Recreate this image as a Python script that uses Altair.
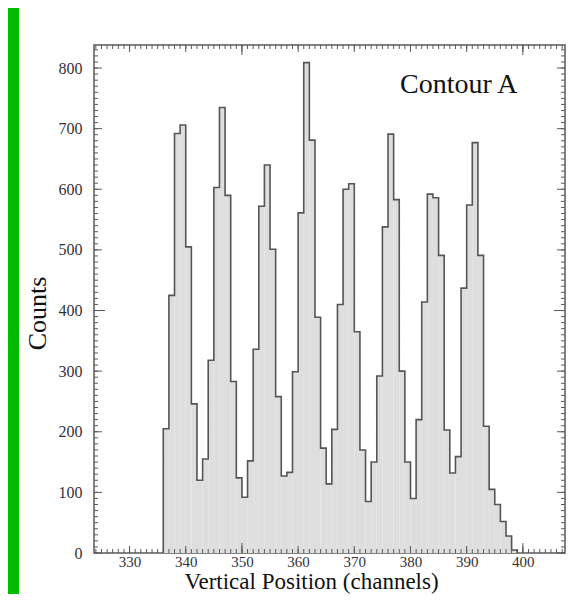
import altair as alt
import pandas as pd

# ---- data ----
channels = list(range(336, 399))
counts = [205, 425, 692, 706, 505, 246, 120, 155, 318, 603,
          735, 590, 283, 124, 92, 152, 336, 572, 640, 501,
          258, 127, 133, 299, 561, 809, 681, 389, 173, 114,
          204, 410, 600, 609, 365, 170, 85, 150, 292, 538,
          691, 583, 300, 150, 90, 220, 414, 592, 586, 491,
          203, 132, 159, 437, 574, 677, 491, 209, 105, 80,
          52, 28, 5]
x_label_values = [330, 340, 350, 360, 370, 380, 390, 400]
y_label_values = [0, 100, 200, 300, 400, 500, 600, 700, 800]
x_minor = list(range(324, 408))
x_big = [350, 400]
y_minor = list(range(0, 840, 10))
y_big = [400]
x_domain = [323.67, 407.5]
y_domain = [0, 838]
annotation = ["Contour A"]

PW, PH = 471, 508
FRAME = "#5a5a5a"
SERIF = "Liberation Serif"

# step outline points: rise at first edge, drop after last bin
xs_pts = [channels[0]] + channels + [channels[-1] + 1]
ys_pts = [0] + counts + [0]
hist = pd.DataFrame({"x": xs_pts, "y": ys_pts, "i": list(range(len(xs_pts)))})

xs = alt.Scale(domain=x_domain, nice=False, zero=False)
ys = alt.Scale(domain=y_domain, nice=False)

xaxis = alt.Axis(
    values=x_label_values, format="d", ticks=False, domain=False, grid=False,
    labelFont=SERIF, labelFontSize=15, labelColor="#333", labelPadding=1,
    title="Vertical Position (channels)", titleFont=SERIF, titleFontSize=23,
    titleFontWeight="normal", titleColor="#111", titleX=217, titleY=35,
    titleBaseline="alphabetic", titleAlign="center")
yaxis = alt.Axis(
    values=y_label_values, format="d", ticks=False, domain=False, grid=False,
    labelFont=SERIF, labelFontSize=16, labelColor="#333", labelPadding=12,
    title="Counts", titleFont=SERIF, titleFontSize=26, titleFontWeight="normal",
    titleColor="#111", titleX=-57, titleY=268, titleAlign="center",
    titleBaseline="middle", titleAngle=270)

area = alt.Chart(hist).mark_area(
    interpolate="step-after", color="#dedede"
).encode(
    x=alt.X("x:Q", scale=xs, axis=xaxis),
    y=alt.Y("y:Q", scale=ys, axis=yaxis),
    order=alt.Order("i:Q"),
)

line = alt.Chart(hist).mark_line(
    interpolate="step-after", color="#555555", strokeWidth=1.6
).encode(
    x=alt.X("x:Q", scale=xs, axis=xaxis),
    y=alt.Y("y:Q", scale=ys, axis=yaxis),
    order=alt.Order("i:Q"),
)


def xticks(vals, L):
    d = pd.DataFrame({"x": vals})
    bottom = alt.Chart(d).mark_rule(color=FRAME, strokeWidth=1).encode(
        x=alt.X("x:Q", scale=xs, axis=xaxis), y=alt.value(PH), y2=alt.value(PH - L))
    top = alt.Chart(d).mark_rule(color=FRAME, strokeWidth=1).encode(
        x=alt.X("x:Q", scale=xs, axis=xaxis), y=alt.value(0), y2=alt.value(L))
    return [bottom, top]


def yticks(vals, L):
    d = pd.DataFrame({"y": vals})
    left = alt.Chart(d).mark_rule(color=FRAME, strokeWidth=1).encode(
        y=alt.Y("y:Q", scale=ys, axis=yaxis), x=alt.value(0), x2=alt.value(L))
    right = alt.Chart(d).mark_rule(color=FRAME, strokeWidth=1).encode(
        y=alt.Y("y:Q", scale=ys, axis=yaxis), x=alt.value(PW), x2=alt.value(PW - L))
    return [left, right]


tick_layers = (xticks(x_minor, 4) + xticks(x_label_values, 7) + xticks(x_big, 10)
               + yticks(y_minor, 4) + yticks(y_label_values, 8) + yticks(y_big, 11))

one = pd.DataFrame({"t": annotation})
text = alt.Chart(one).mark_text(
    font=SERIF, fontSize=28, color="#111", align="left", baseline="alphabetic"
).encode(text="t:N", x=alt.value(306), y=alt.value(48))

green = alt.Chart(one).mark_rect(color="#00bb00").encode(
    x=alt.value(-92), x2=alt.value(-75), y=alt.value(-45), y2=alt.value(560))

chart = alt.layer(area, line, *tick_layers, text, green).properties(
    width=PW, height=PH,
    autosize=alt.AutoSizeParams(type="none"),
    padding={"left": 86, "top": 37, "right": 15, "bottom": 41},
    background="white",
).configure_view(stroke=FRAME, strokeWidth=1.5)

chart.save("out.html", embed_options={"renderer": "svg", "actions": False})
